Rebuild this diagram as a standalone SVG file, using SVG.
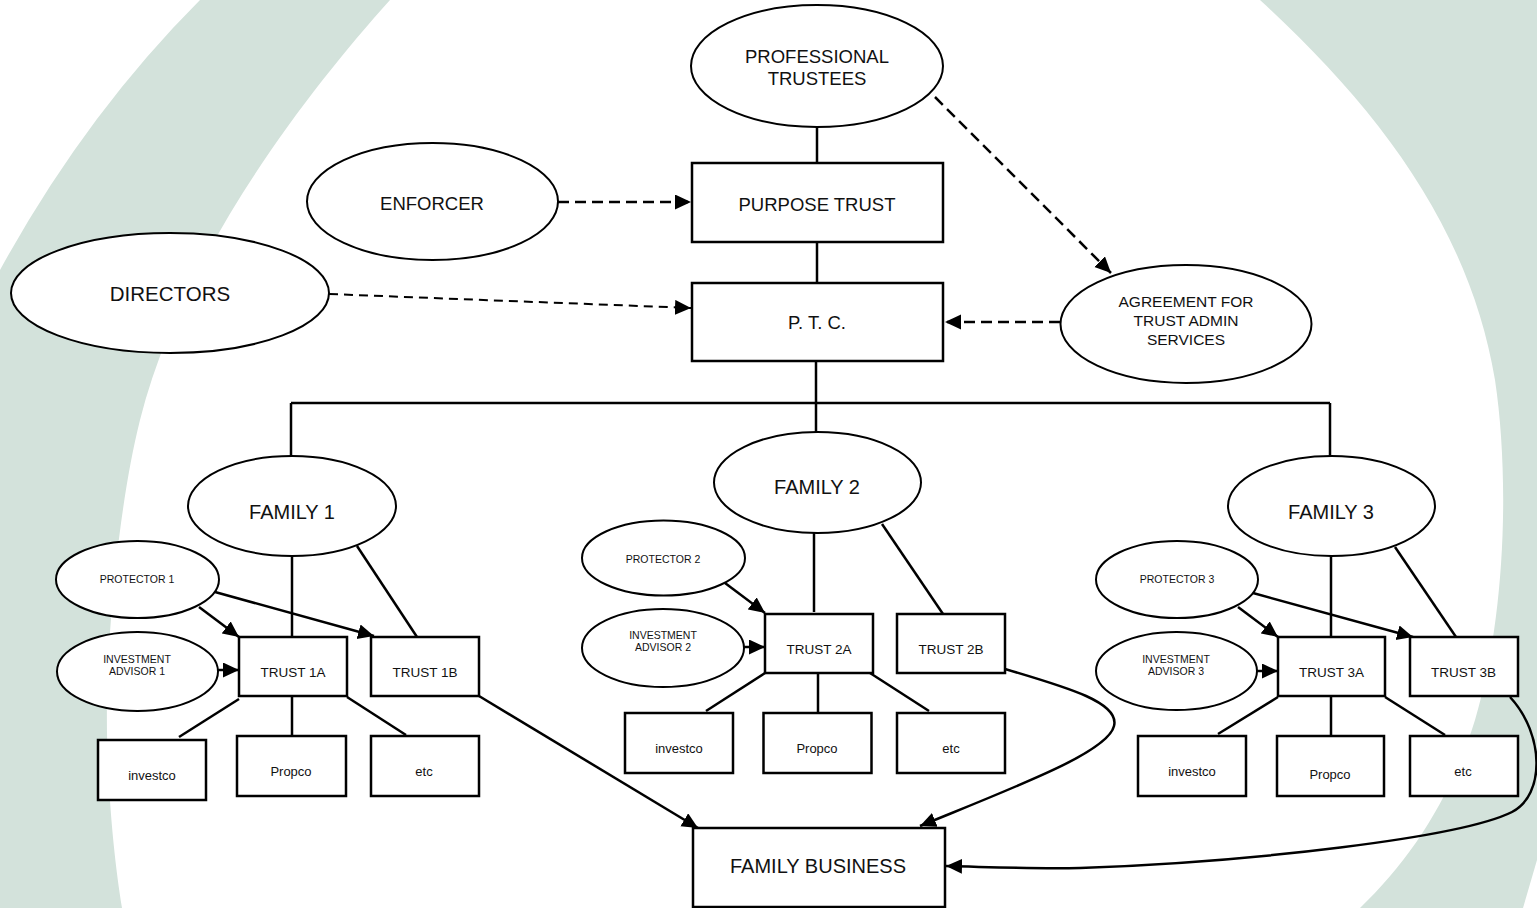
<svg xmlns="http://www.w3.org/2000/svg" width="1537" height="908" viewBox="0 0 1537 908">
  <defs>
    <style>
      .box { fill: #fff; stroke: #000; stroke-width: 2.5; }
      .oval { fill: #fff; stroke: #000; stroke-width: 2; }
      .ln { fill: none; stroke: #000; stroke-width: 2.5; }
      .arr { fill: none; stroke: #000; stroke-width: 2.5; marker-end: url(#head); }
      .dsh { fill: none; stroke: #000; stroke-width: 2.5; stroke-dasharray: 11 6; marker-end: url(#head); }
      .dsh-thin { fill: none; stroke: #000; stroke-width: 2; stroke-dasharray: 9 6; marker-end: url(#head); }
      .band { fill: #d3e2db; }
      text { font-family: "Liberation Sans", Arial, sans-serif; fill: #111; text-anchor: middle; }
      .t-lg { font-size: 20px; }
      .t-md { font-size: 18.5px; }
      .t-sm { font-size: 15.5px; }
      .t-tr { font-size: 13.5px; }
      .t-co { font-size: 13px; }
      .t-xs { font-size: 10.5px; }
    </style>
    <marker id="head" markerUnits="userSpaceOnUse" markerWidth="18" markerHeight="16" refX="16" refY="7.5" orient="auto">
      <path d="M0,0 L16,7.5 L0,15 Z" fill="#000"/>
    </marker>
  </defs>

  <!-- background bands -->
  <g id="background">
    <path class="band" d="M200,0 L390,0 C300,100 180,260 140,420 C115,520 103,680 108,760 C110,820 116,870 122,908 L0,908 L0,270 Q85,115 200,0 Z"/>
    <path class="band" d="M1260,0 C1380,110 1470,230 1495,380 C1510,480 1505,620 1475,720 C1450,800 1410,860 1360,908 L1523,908 L1537,860 L1537,0 Z"/>
  </g>

  <!-- connectors -->
  <g id="connectors">
    <path class="ln" d="M817,127 V163"/>
    <path class="ln" d="M817,242 V283"/>
    <path class="ln" d="M816,361 V403"/>
    <path class="ln" d="M291,403 H1330"/>
    <path class="ln" d="M291,403 V456"/>
    <path class="ln" d="M816,403 V432"/>
    <path class="ln" d="M1330,403 V456"/>

    <path class="ln" d="M292,556 V637"/>
    <path class="ln" d="M357,546 L417,637"/>
    <path class="ln" d="M814,533 V612"/>
    <path class="ln" d="M882,524 L943,614"/>
    <path class="ln" d="M1331,556 V637"/>
    <path class="ln" d="M1395,547 L1456,637"/>

    <path class="ln" d="M239,699 L179,737"/>
    <path class="ln" d="M292,696 V736"/>
    <path class="ln" d="M347,697 L406,735"/>
    <path class="ln" d="M765,673 L706,711"/>
    <path class="ln" d="M818,673 V713"/>
    <path class="ln" d="M870,673 L929,711"/>
    <path class="ln" d="M1278,697 L1218,734"/>
    <path class="ln" d="M1331,696 V736"/>
    <path class="ln" d="M1385,697 L1445,735"/>

    <path class="arr" d="M199,607 L239,637"/>
    <path class="arr" d="M215,592 L374,636"/>
    <path class="arr" d="M218,670 L239,670"/>
    <path class="arr" d="M725,583 L765,613"/>
    <path class="arr" d="M744,647 L765,647"/>
    <path class="arr" d="M1238,607 L1278,637"/>
    <path class="arr" d="M1253,593 L1413,637"/>
    <path class="arr" d="M1257,671 L1278,671"/>

    <path class="arr" d="M479,696 L698,828"/>
    <path class="arr" d="M1005,669 C1070,688 1120,703 1114,726 C1108,752 1020,785 920,826"/>
    <path class="arr" d="M1510,697 C1545,735 1545,795 1512,812 C1460,838 1250,862 1080,868 C1030,869 990,867 946,866"/>

    <path class="dsh" d="M558,202 L691,202"/>
    <path class="dsh-thin" d="M329,294 L691,308"/>
    <path class="dsh" d="M1060,322 L945,322"/>
    <path class="dsh" d="M935,97 L1111,273"/>
  </g>

  <!-- top of the structure -->
  <g id="professional-trustees">
    <ellipse class="oval" cx="817" cy="66" rx="126" ry="61"/>
    <text class="t-md" x="817" y="63">PROFESSIONAL</text>
    <text class="t-md" x="817" y="85">TRUSTEES</text>
  </g>
  <g id="purpose-trust">
    <rect class="box" x="692" y="163" width="251" height="79"/>
    <text class="t-md" x="817" y="211">PURPOSE TRUST</text>
  </g>
  <g id="ptc">
    <rect class="box" x="692" y="283" width="251" height="78"/>
    <text class="t-md" x="817" y="329">P. T. C.</text>
  </g>
  <g id="enforcer">
    <ellipse class="oval" cx="432.5" cy="201.5" rx="125.5" ry="58.5"/>
    <text class="t-md" x="432" y="210">ENFORCER</text>
  </g>
  <g id="directors">
    <ellipse class="oval" cx="170" cy="293" rx="159" ry="60"/>
    <text style="font-size:20.5px" x="170" y="301">DIRECTORS</text>
  </g>
  <g id="agreement">
    <ellipse class="oval" cx="1186" cy="324" rx="125.5" ry="59"/>
    <text class="t-sm" x="1186" y="307">AGREEMENT FOR</text>
    <text class="t-sm" x="1186" y="326">TRUST ADMIN</text>
    <text class="t-sm" x="1186" y="345">SERVICES</text>
  </g>

  <!-- families -->
  <g id="family-1">
    <ellipse class="oval" cx="292" cy="506" rx="104" ry="50"/>
    <text class="t-lg" x="292" y="519">FAMILY 1</text>
  </g>
  <g id="family-2">
    <ellipse class="oval" cx="817.5" cy="482.5" rx="103.5" ry="50.5"/>
    <text class="t-lg" x="817" y="494">FAMILY 2</text>
  </g>
  <g id="family-3">
    <ellipse class="oval" cx="1331.5" cy="506" rx="103.5" ry="50"/>
    <text class="t-lg" x="1331" y="519">FAMILY 3</text>
  </g>

  <!-- family 1 branch -->
  <g id="protector-1">
    <ellipse class="oval" cx="137.5" cy="579.5" rx="81.5" ry="38.5"/>
    <text class="t-xs" x="137" y="583">PROTECTOR 1</text>
  </g>
  <g id="advisor-1">
    <ellipse class="oval" cx="137.5" cy="671.5" rx="80.5" ry="39.5"/>
    <text class="t-xs" x="137" y="663">INVESTMENT</text>
    <text class="t-xs" x="137" y="674.5">ADVISOR 1</text>
  </g>
  <g id="trust-1a">
    <rect class="box" x="239" y="637" width="108" height="59"/>
    <text class="t-tr" x="293" y="677">TRUST 1A</text>
  </g>
  <g id="trust-1b">
    <rect class="box" x="371" y="637" width="108" height="59"/>
    <text class="t-tr" x="425" y="677">TRUST 1B</text>
  </g>
  <g id="investco-1">
    <rect class="box" x="98" y="740" width="108" height="60"/>
    <text class="t-co" x="152" y="780">investco</text>
  </g>
  <g id="propco-1">
    <rect class="box" x="237" y="736" width="109" height="60"/>
    <text class="t-co" x="291" y="776">Propco</text>
  </g>
  <g id="etc-1">
    <rect class="box" x="371" y="736" width="108" height="60"/>
    <text class="t-co" x="424" y="776">etc</text>
  </g>

  <!-- family 2 branch -->
  <g id="protector-2">
    <ellipse class="oval" cx="663.5" cy="558" rx="81.5" ry="37.5"/>
    <text class="t-xs" x="663" y="563">PROTECTOR 2</text>
  </g>
  <g id="advisor-2">
    <ellipse class="oval" cx="663" cy="648" rx="81" ry="39"/>
    <text class="t-xs" x="663" y="639">INVESTMENT</text>
    <text class="t-xs" x="663" y="651">ADVISOR 2</text>
  </g>
  <g id="trust-2a">
    <rect class="box" x="765" y="614" width="108" height="59"/>
    <text class="t-tr" x="819" y="654">TRUST 2A</text>
  </g>
  <g id="trust-2b">
    <rect class="box" x="897" y="614" width="108" height="59"/>
    <text class="t-tr" x="951" y="654">TRUST 2B</text>
  </g>
  <g id="investco-2">
    <rect class="box" x="625" y="713" width="108" height="60"/>
    <text class="t-co" x="679" y="753">investco</text>
  </g>
  <g id="propco-2">
    <rect class="box" x="763.5" y="713" width="108" height="60"/>
    <text class="t-co" x="817" y="753">Propco</text>
  </g>
  <g id="etc-2">
    <rect class="box" x="897" y="713" width="108" height="60"/>
    <text class="t-co" x="951" y="753">etc</text>
  </g>

  <!-- family 3 branch -->
  <g id="protector-3">
    <ellipse class="oval" cx="1177" cy="579.5" rx="81" ry="38.5"/>
    <text class="t-xs" x="1177" y="583">PROTECTOR 3</text>
  </g>
  <g id="advisor-3">
    <ellipse class="oval" cx="1176.5" cy="671" rx="80.5" ry="39"/>
    <text class="t-xs" x="1176" y="663">INVESTMENT</text>
    <text class="t-xs" x="1176" y="674.5">ADVISOR 3</text>
  </g>
  <g id="trust-3a">
    <rect class="box" x="1278" y="637" width="107" height="59"/>
    <text class="t-tr" x="1331.5" y="677">TRUST 3A</text>
  </g>
  <g id="trust-3b">
    <rect class="box" x="1410" y="637" width="108" height="59"/>
    <text class="t-tr" x="1463.5" y="677">TRUST 3B</text>
  </g>
  <g id="investco-3">
    <rect class="box" x="1138" y="736" width="108" height="60"/>
    <text class="t-co" x="1192" y="776">investco</text>
  </g>
  <g id="propco-3">
    <rect class="box" x="1277" y="736" width="107" height="60"/>
    <text class="t-co" x="1330" y="779">Propco</text>
  </g>
  <g id="etc-3">
    <rect class="box" x="1410" y="736" width="108" height="60"/>
    <text class="t-co" x="1463" y="776">etc</text>
  </g>

  <!-- shared target -->
  <g id="family-business">
    <rect class="box" x="693" y="828" width="252" height="79"/>
    <text class="t-lg" x="818" y="873">FAMILY BUSINESS</text>
  </g>
</svg>
